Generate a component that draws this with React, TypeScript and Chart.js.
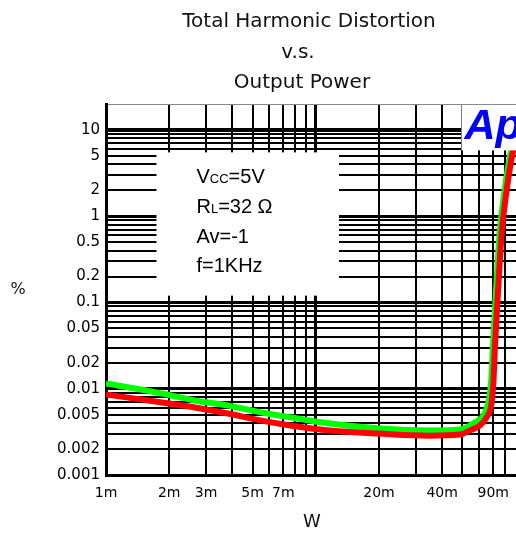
import React, { useEffect, useRef } from 'react';
import { Chart, registerables } from 'chart.js';

Chart.register(...registerables);

// ---- data (output power in W, THD+N in %) ----
const redPowerW = [0.001, 0.00185, 0.00265, 0.00381, 0.00552, 0.00769, 0.0117, 0.0202, 0.0349, 0.0485, 0.0542, 0.0603, 0.0651, 0.0688, 0.0703, 0.0714, 0.0736, 0.0769, 0.0812, 0.0867, 0.0896];
const redThdPct = [0.00857, 0.00693, 0.00606, 0.00516, 0.00427, 0.00373, 0.00328, 0.00302, 0.00286, 0.00294, 0.00328, 0.00373, 0.00464, 0.00679, 0.0125, 0.0301, 0.114, 0.631, 1.99, 5.34, 6.97];
const greenPowerW = [0.001, 0.00185, 0.00265, 0.00381, 0.00552, 0.00769, 0.0117, 0.0202, 0.0349, 0.0485, 0.0572, 0.0638, 0.0672, 0.0686, 0.0698, 0.072, 0.0752, 0.0794, 0.0848, 0.0885];
const greenThdPct = [0.0115, 0.00881, 0.00731, 0.0064, 0.00531, 0.00464, 0.00395, 0.00346, 0.00328, 0.00336, 0.00406, 0.00516, 0.00793, 0.0125, 0.0301, 0.114, 0.631, 1.99, 5.34, 7.6];

// ---- axes ----
const xMin = 0.001;
const xMax = 0.09;
const yMin = 0.001;
const yMax = 20;
const xGridValues = [0.001, 0.002, 0.003, 0.004, 0.005, 0.006, 0.007, 0.008, 0.009, 0.01, 0.02, 0.03, 0.04, 0.05, 0.06, 0.07, 0.08, 0.09];
const xLabelValues = [0.001, 0.002, 0.003, 0.005, 0.007, 0.02, 0.04];
const xLabelTexts = ['1m', '2m', '3m', '5m', '7m', '20m', '40m'];
const xEdgeLabelValue = 0.09;
const xEdgeLabelText = '90m';
const yGridValues = [0.001, 0.002, 0.003, 0.004, 0.005, 0.006, 0.007, 0.008, 0.009, 0.01, 0.02, 0.03, 0.04, 0.05, 0.06, 0.07, 0.08, 0.09, 0.1, 0.2, 0.3, 0.4, 0.5, 0.6, 0.7, 0.8, 0.9, 1, 2, 3, 4, 5, 6, 7, 8, 9, 10, 20];
const yLabelValues = [0.001, 0.002, 0.005, 0.01, 0.02, 0.05, 0.1, 0.2, 0.5, 1, 2, 5, 10];
const yLabelTexts = ['0.001', '0.002', '0.005', '0.01', '0.02', '0.05', '0.1', '0.2', '0.5', '1', '2', '5', '10'];

// ---- texts ----
const titleLines = ['Total Harmonic Distortion', 'v.s.', 'Output Power'];
const yAxisTitle = '%';
const xAxisTitle = 'W';
const logoText = 'Ap';
const conditionLines: [string, number][][] = [
  [['V', 20], ['CC', 13], ['=5V', 20]],
  [['R', 20], ['L', 13], ['=32', 20], [' \u03A9', 20]],
  [['Av=-1', 20]],
  [['f=1KHz', 20]],
];
// white boxes in data units: [x0, x1], [yTop, yBottom]
const condBoxX = [0.00174, 0.0129];
const condBoxY = [5.5, 0.12];
const logoBoxX = [0.0495, 0.09];
const logoBoxY = [20, 5.8];

const xLabelMap = new Map<number, string>(xLabelValues.map((v, i) => [v, xLabelTexts[i]]));
const yLabelMap = new Map<number, string>(yLabelValues.map((v, i) => [v, yLabelTexts[i]]));

const TICK_FONT = '"DejaVu Sans", sans-serif';
const ANNOT_FONT = '"Liberation Sans", Arial, sans-serif';
const X_TICK_SIZE = 14;
const X_TICK_PAD = 10;

const decorPlugin = {
  id: 'decor',
  beforeDatasetsDraw(chart: any) {
    const { ctx, scales } = chart;
    const x = scales.x;
    const y = scales.y;
    const l = x.getPixelForValue(condBoxX[0]);
    const r = x.getPixelForValue(condBoxX[1]);
    const t = y.getPixelForValue(condBoxY[0]);
    const b = y.getPixelForValue(condBoxY[1]);
    ctx.save();
    ctx.fillStyle = '#ffffff';
    ctx.fillRect(l, t, r - l, b - t);
    ctx.restore();
  },
  afterDraw(chart: any) {
    const { ctx, scales, chartArea } = chart;
    const x = scales.x;
    const y = scales.y;
    ctx.save();

    // logo box
    const ll = x.getPixelForValue(logoBoxX[0]);
    const lr = x.getPixelForValue(logoBoxX[1]) + 2;
    const lt = y.getPixelForValue(logoBoxY[0]) + 1;
    const lb = y.getPixelForValue(logoBoxY[1]);
    ctx.fillStyle = '#ffffff';
    ctx.fillRect(ll, lt, lr - ll, lb - lt);
    ctx.fillStyle = '#0000ff';
    ctx.font = 'italic bold 43px ' + ANNOT_FONT;
    ctx.textAlign = 'left';
    ctx.textBaseline = 'alphabetic';
    ctx.fillText(logoText, ll + 3, lt + 34);

    // conditions text
    const cl = x.getPixelForValue(condBoxX[0]);
    const ct = y.getPixelForValue(condBoxY[0]);
    ctx.fillStyle = '#000000';
    conditionLines.forEach((runs, i) => {
      let cx = cl + 40;
      const by = ct + 31 + i * 29.7;
      runs.forEach(([text, size]) => {
        ctx.font = `${size}px ${ANNOT_FONT}`;
        ctx.fillText(text, cx, by);
        cx += ctx.measureText(text).width;
      });
    });

    // title
    ctx.fillStyle = '#111111';
    ctx.textAlign = 'center';
    ctx.font = '20px ' + TICK_FONT;
    const titleBaselines = [27, 58, 88];
    const titleCenters = [309, 298, 302];
    titleLines.forEach((line, i) => ctx.fillText(line, titleCenters[i], titleBaselines[i]));

    // axis titles
    ctx.font = '16px ' + TICK_FONT;
    ctx.fillText(yAxisTitle, 18, 294);
    ctx.font = '18px ' + TICK_FONT;
    ctx.fillText(xAxisTitle, 312, 527);

    // last x label at the right edge
    ctx.font = `${X_TICK_SIZE}px ${TICK_FONT}`;
    ctx.textAlign = 'right';
    ctx.textBaseline = 'middle';
    ctx.fillStyle = '#000000';
    ctx.fillText(xEdgeLabelText, x.getPixelForValue(xEdgeLabelValue) - 7, chartArea.bottom + X_TICK_PAD + (X_TICK_SIZE * 1.2) / 2);

    ctx.restore();
  },
};

export default function App() {
  const ref = useRef<HTMLCanvasElement>(null);

  useEffect(() => {
    const canvas = ref.current;
    if (!canvas) return;
    const chart = new Chart(canvas, {
      type: 'line',
      data: {
        datasets: [
          {
            label: 'THD (red)',
            data: redPowerW.map((p, i) => ({ x: p, y: redThdPct[i] })),
            borderColor: '#ff0000',
            backgroundColor: '#ff0000',
            borderWidth: 6,
            pointRadius: 0,
            cubicInterpolationMode: 'monotone',
            order: 0,
          },
          {
            label: 'THD (green)',
            data: greenPowerW.map((p, i) => ({ x: p, y: greenThdPct[i] })),
            borderColor: '#00ff00',
            backgroundColor: '#00ff00',
            borderWidth: 6,
            pointRadius: 0,
            cubicInterpolationMode: 'monotone',
            order: 1,
          },
        ],
      },
      options: {
        responsive: false,
        animation: false,
        events: [],
        layout: { padding: { top: 104, left: 0, right: 0, bottom: 0 } },
        plugins: {
          legend: { display: false },
          tooltip: { enabled: false },
          title: { display: false },
        },
        scales: {
          x: {
            type: 'logarithmic',
            min: xMin,
            max: xMax,
            afterBuildTicks: (s: any) => {
              s.ticks = xGridValues.map((v) => ({ value: v }));
            },
            afterFit: (s: any) => {
              s.height = 59;
              s.paddingLeft = 0;
              s.paddingRight = 0;
            },
            ticks: {
              autoSkip: false,
              maxRotation: 0,
              minRotation: 0,
              padding: X_TICK_PAD,
              color: '#000000',
              font: { family: TICK_FONT, size: X_TICK_SIZE },
              callback: (v: any) => xLabelMap.get(Number(v)) ?? '',
            },
            grid: {
              drawTicks: false,
              tickLength: 0,
              color: (c: any) => (c.tick && c.tick.value === xMax ? 'rgba(0,0,0,0)' : '#000000'),
              lineWidth: (c: any) => (c.tick && (c.tick.value === 0.01 || c.tick.value === 0.001) ? 3 : 2),
            },
            border: { display: true, color: '#000000', width: 3 },
          },
          y: {
            type: 'logarithmic',
            min: yMin,
            max: yMax,
            afterBuildTicks: (s: any) => {
              s.ticks = yGridValues.map((v) => ({ value: v }));
            },
            afterFit: (s: any) => {
              s.width = 106;
              s.paddingTop = 0;
              s.paddingBottom = 0;
            },
            ticks: {
              autoSkip: false,
              padding: 6,
              color: '#000000',
              font: { family: TICK_FONT, size: 15 },
              callback: (v: any) => yLabelMap.get(Number(v)) ?? '',
            },
            grid: {
              drawTicks: false,
              tickLength: 0,
              color: (c: any) => (c.tick && c.tick.value === yMax ? '#888888' : '#000000'),
              lineWidth: (c: any) => {
                const v = c.tick ? c.tick.value : 0;
                if (v === yMax) return 1;
                if (v === 10) return 4;
                if (v === 0.1 || v === 0.01 || v === 1) return 3;
                return 2;
              },
            },
            border: { display: true, color: '#000000', width: 3 },
          },
        },
      },
      plugins: [decorPlugin],
    } as any);
    return () => chart.destroy();
  }, []);

  return (
    <div style={{ position: 'absolute', left: 0, top: 0, width: 516, height: 534, background: '#ffffff' }}>
      <canvas ref={ref} width={516} height={534} style={{ display: 'block', width: 516, height: 534 }} />
    </div>
  );
}
